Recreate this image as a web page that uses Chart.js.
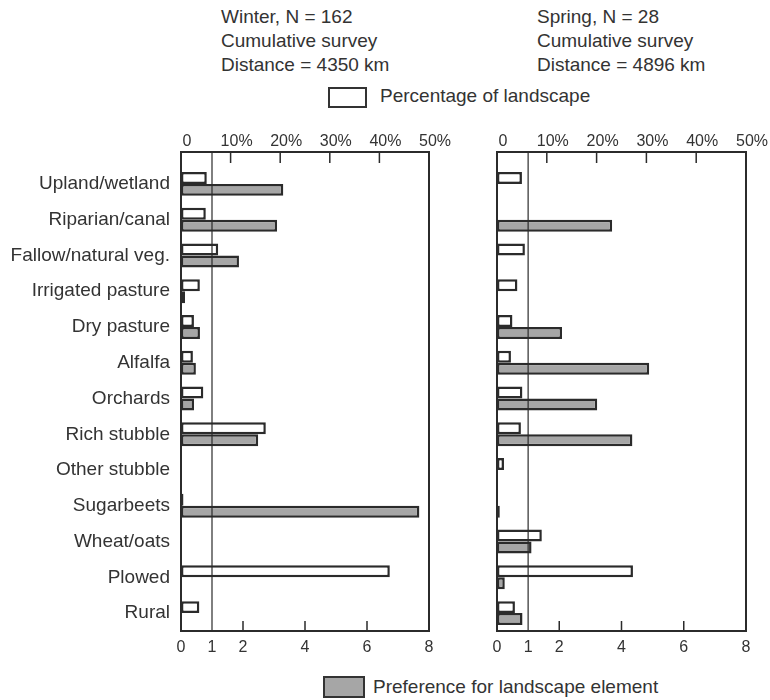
<!DOCTYPE html>
<html>
<head>
<meta charset="utf-8">
<script src="https://cdn.jsdelivr.net/npm/chart.js@4.4.1/dist/chart.umd.min.js"></script>
<style>
  body { margin: 0; background: #fff; width: 770px; height: 700px; position: relative; overflow: hidden;
         font-family: "Liberation Sans", Arial, sans-serif; color: #333; }
  .t { position: absolute; font-size: 19px; line-height: 24px; white-space: nowrap; }
  .box { position: absolute; border: 2px solid #333; box-sizing: border-box; }
  canvas { position: absolute; top: 110px; }
</style>
</head>
<body>
<div class="t" style="left:221px;top:5px">Winter, N = 162<br>Cumulative survey<br>Distance = 4350 km</div>
<div class="t" style="left:537px;top:5px">Spring, N = 28<br>Cumulative survey<br>Distance = 4896 km</div>
<div class="box" style="left:328px;top:87px;width:39px;height:21px;background:#fff"></div>
<div class="t" style="left:380px;top:84px">Percentage of landscape</div>

<canvas id="winterChart" width="460" height="560" style="left:0;width:460px;height:560px"></canvas>
<canvas id="springChart" width="300" height="560" style="left:470px;width:300px;height:560px"></canvas>

<div class="box" style="left:323px;top:676px;width:42px;height:22px;background:#a6a6a6"></div>
<div class="t" style="left:373px;top:675px">Preference for landscape element</div>

<script>
// Landscape elements, top to bottom
const categories = ['Upland/wetland', 'Riparian/canal', 'Fallow/natural veg.', 'Irrigated pasture',
  'Dry pasture', 'Alfalfa', 'Orchards', 'Rich stubble', 'Other stubble', 'Sugarbeets',
  'Wheat/oats', 'Plowed', 'Rural'];

// Percentage of landscape (top axis, %) and preference (bottom axis)
const winterLandscape  = [5.2, 5.0, 7.5, 3.8, 2.6, 2.4, 4.5, 17.1, 0, 0.5, 0, 42.1, 3.7];
const winterPreference = [3.3, 3.1, 1.87, 0.13, 0.61, 0.48, 0.42, 2.49, 0, 7.69, 0, 0, 0];
const springLandscape  = [5.0, 0, 5.6, 4.1, 3.1, 2.8, 5.1, 4.8, 1.4, 0, 9.0, 27.3, 3.6];
const springPreference = [0, 3.7, 0, 0, 2.09, 4.89, 3.22, 4.35, 0, 0.09, 1.11, 0.25, 0.82];

// Axis ticks
const pctTicks = [0, 10, 20, 30, 40, 50];
const prefTicks = [0, 1, 2, 4, 6, 8];
const pctInnerTicks = [10, 20, 30, 40];
const prefInnerTicks = [2, 4, 6];
const prefReference = 1;

Chart.defaults.font.family = '"Liberation Sans", Arial, sans-serif';
Chart.defaults.color = '#333';

const lineColor = '#2b2b2b';
const boxGap = 14; // frame starts a little above the first category

// box, inward tick marks and the preference = 1 line
const frame = {
  id: 'frame',
  afterDatasetsDraw(chart) {
    const { ctx, chartArea: a, scales } = chart;
    const top = a.top - boxGap;
    ctx.save();
    ctx.strokeStyle = lineColor;
    const xr = scales.x.getPixelForValue(prefReference);
    ctx.lineWidth = 1.2;
    ctx.beginPath();
    ctx.moveTo(xr, top); ctx.lineTo(xr, a.bottom);
    ctx.stroke();
    ctx.lineWidth = 1.5;
    ctx.beginPath();
    pctInnerTicks.forEach(v => {
      const x = scales.x2.getPixelForValue(v);
      ctx.moveTo(x, top); ctx.lineTo(x, top + 11);
    });
    prefInnerTicks.forEach(v => {
      const x = scales.x.getPixelForValue(v);
      ctx.moveTo(x, a.bottom); ctx.lineTo(x, a.bottom - 10);
    });
    ctx.stroke();
    ctx.lineWidth = 2;
    ctx.strokeRect(a.left, top, a.right - a.left, a.bottom - top);
    ctx.restore();
  }
};

function makeChart(id, landscape, preference, showLabels) {
  const barStyle = { borderColor: lineColor, borderWidth: 2.5, borderSkipped: false,
                     categoryPercentage: 0.67, barPercentage: 1 };
  return new Chart(document.getElementById(id), {
    type: 'bar',
    data: {
      labels: categories,
      datasets: [
        Object.assign({ label: 'Percentage of landscape', data: landscape, xAxisID: 'x2',
                        backgroundColor: '#fff' }, barStyle),
        Object.assign({ label: 'Preference for landscape element', data: preference, xAxisID: 'x',
                        backgroundColor: '#a6a6a6' }, barStyle)
      ]
    },
    options: {
      indexAxis: 'y',
      responsive: false,
      animation: false,
      devicePixelRatio: 1,
      layout: { padding: { left: 0, right: showLabels ? 31 : 24, top: 0, bottom: 0 } },
      plugins: { legend: { display: false }, tooltip: { enabled: false } },
      scales: {
        y: {
          grid: { display: false, drawTicks: false },
          border: { display: false },
          ticks: { display: showLabels, font: { size: 19 }, padding: 11, color: '#333' },
          afterFit: s => { s.width = showLabels ? 181 : 27; }
        },
        x: {
          type: 'linear', position: 'bottom', min: 0, max: 8,
          grid: { display: false, drawTicks: false },
          border: { display: false },
          afterBuildTicks: s => { s.ticks = prefTicks.map(v => ({ value: v })); },
          afterFit: s => { s.height = 39; s.paddingLeft = 0; s.paddingRight = 0; },
          ticks: { font: { size: 16 }, padding: 7, autoSkip: false, maxRotation: 0, color: '#333' }
        },
        x2: {
          type: 'linear', position: 'top', min: 0, max: 50,
          grid: { display: false, drawTicks: false },
          border: { display: false },
          afterBuildTicks: s => { s.ticks = pctTicks.map(v => ({ value: v })); },
          afterFit: s => { s.height = 42 + boxGap; s.paddingLeft = 0; s.paddingRight = 0; },
          ticks: { font: { size: 16 }, padding: 1 + boxGap, labelOffset: 6, autoSkip: false, maxRotation: 0,
                   color: '#333', callback: v => v === 0 ? '0' : v + '%' }
        }
      }
    },
    plugins: [frame]
  });
}

makeChart('winterChart', winterLandscape, winterPreference, true);
makeChart('springChart', springLandscape, springPreference, false);
</script>
</body>
</html>
